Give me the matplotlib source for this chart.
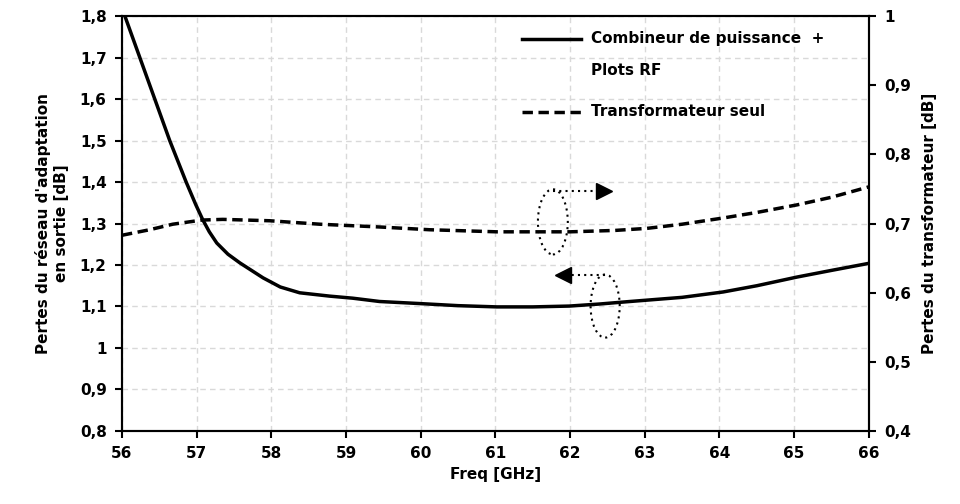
import numpy as np
import matplotlib.pyplot as plt
from matplotlib.patches import Ellipse
from matplotlib.lines import Line2D

plt.rcParams['font.family'] = ['Liberation Sans Narrow', 'DejaVu Sans']
plt.rcParams['font.weight'] = 'bold'

# Combineur de puissance + Plots RF (axe gauche)
f_comb = [56.04, 56.24, 56.44, 56.64, 56.86, 56.99, 57.08, 57.17, 57.27, 57.42, 57.58, 57.89, 58.12,
          58.38, 58.78, 59.09, 59.45, 59.99, 60.5, 61.02, 61.5, 61.99, 62.4, 62.80, 63.5, 64.05, 64.5,
          65.04, 65.5, 66.0]
p_comb = [1.80, 1.70, 1.60, 1.50, 1.40, 1.345, 1.310, 1.280, 1.253, 1.226, 1.205, 1.169, 1.147,
          1.133, 1.125, 1.120, 1.112, 1.107, 1.102, 1.099, 1.099, 1.101, 1.106, 1.112, 1.122, 1.135, 1.150,
          1.171, 1.187, 1.204]

# Transformateur seul (axe droit)
f_tr = [56.0, 56.37, 56.68, 57.07, 57.35, 57.98, 58.65, 59.45, 60.12, 61.02, 62.0, 62.6, 63.03,
        63.5, 64.05, 64.5, 65.04, 65.5, 66.0]
p_tr = [0.683, 0.691, 0.699, 0.705, 0.706, 0.704, 0.699, 0.695, 0.691, 0.688, 0.688, 0.690, 0.693,
        0.699, 0.708, 0.716, 0.727, 0.738, 0.753]

xticks = np.arange(56, 67, 1)
yticks_l = np.round(np.arange(0.8, 1.81, 0.1), 1)
yticks_r = np.round(np.arange(0.4, 1.01, 0.1), 1)

def lab(v):
    s = ('%.1f' % v).replace('.', ',')
    return s[:-2] if s.endswith(',0') else s

fig = plt.figure(figsize=(9.6, 5.04), dpi=100)
ax = fig.add_axes([0.127, 0.145, 0.778, 0.823])
ax2 = ax.twinx()

ax.plot(f_comb, p_comb, color='black', lw=2.5, solid_joinstyle='round')
ax2.plot(f_tr, p_tr, color='black', lw=2.5, ls=(0, (3, 1.6)))

ax.set_xlim(56, 66)
ax.set_ylim(0.8, 1.8)
ax2.set_ylim(0.4, 1.0)
ax.set_xticks(xticks)
ax.set_xticklabels([str(x) for x in xticks], fontsize=11, fontweight='bold')
ax.set_yticks(yticks_l)
ax.set_yticklabels([lab(v) for v in yticks_l], fontsize=11, fontweight='bold')
ax2.set_yticks(yticks_r)
ax2.set_yticklabels([lab(v) for v in yticks_r], fontsize=11, fontweight='bold')

ax.grid(True, color='#d9d9d9', ls=(0, (4, 3)), lw=1)
ax.set_axisbelow(True)
for a in (ax, ax2):
    for s in a.spines.values():
        s.set_linewidth(1.5)
    a.tick_params(width=1.5, length=5, direction='out', pad=6)

ax.set_xlabel('Freq [GHz]', fontsize=11, fontweight='bold', labelpad=4)
ax.set_ylabel("Pertes du réseau d'adaptation\nen sortie [dB]", fontsize=11, fontweight='bold', labelpad=8)
ax2.set_ylabel('Pertes du transformateur [dB]', fontsize=11, fontweight='bold', labelpad=8)

# indicateurs d'axe (ellipses + flèches)
ax.add_patch(Ellipse((61.77, 1.304), 0.40, 0.157, fill=False, ls=(0, (1, 2)), lw=1.5, ec='black'))
ax.add_patch(Ellipse((62.47, 1.101), 0.39, 0.152, fill=False, ls=(0, (1, 2)), lw=1.5, ec='black'))
ax.plot([61.77, 62.42], [1.378, 1.378], color='black', ls=(0, (1, 2)), lw=1.5)
ax.plot([62.45], [1.378], marker='>', ms=11, color='black', ls='none')
ax.plot([62.47, 61.92], [1.176, 1.176], color='black', ls=(0, (1, 2)), lw=1.5)
ax.plot([61.90], [1.176], marker='<', ms=11, color='black', ls='none')

# légende
ax.add_line(Line2D([0.536, 0.614], [0.945, 0.945], transform=ax.transAxes, color='black', lw=2.5))
ax.add_line(Line2D([0.536, 0.614], [0.769, 0.769], transform=ax.transAxes, color='black', lw=2.5,
                   ls=(0, (3, 1.6))))
ax.text(0.628, 0.945, 'Combineur de puissance  +', transform=ax.transAxes, fontsize=11,
        fontweight='bold', va='center')
ax.text(0.628, 0.870, 'Plots RF', transform=ax.transAxes, fontsize=11, fontweight='bold', va='center')
ax.text(0.628, 0.769, 'Transformateur seul', transform=ax.transAxes, fontsize=11,
        fontweight='bold', va='center')

fig.savefig('out.png', dpi=100)
